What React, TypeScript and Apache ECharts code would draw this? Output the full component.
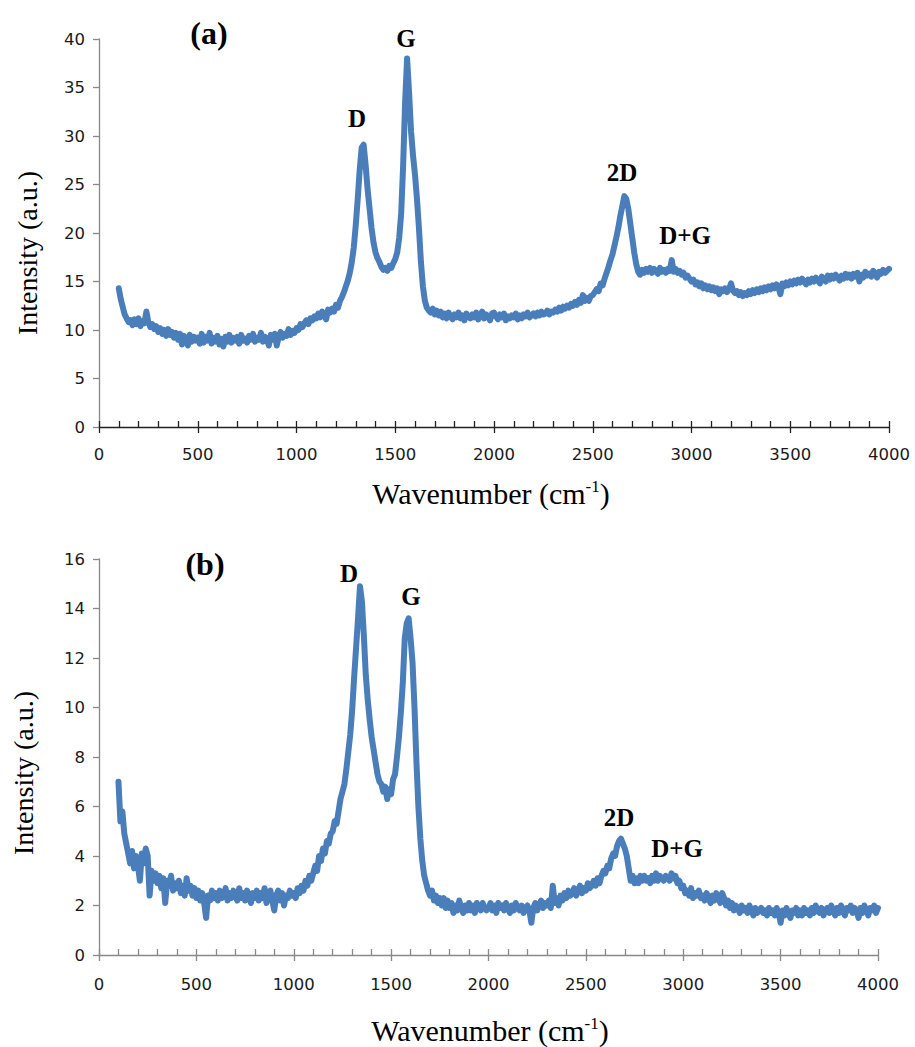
import React, { useEffect, useRef } from "react";
import * as echarts from "echarts";

// Wavenumber sampling (cm-1): first point and spacing of the recorded spectra
const WAVE_START = 100;
const WAVE_STEP = 10;

// Spectrum (a) intensities, 100 .. 4000 cm-1, one row per 100 cm-1
const intensityA: number[] = [
  14.3, 13.2, 12.4, 11.6, 11.2, 10.8, 11.0, 10.5, 11.1, 10.6,
  11.2, 10.4, 10.9, 10.7, 11.9, 10.8, 10.3, 10.6, 10.1, 10.4,
  9.8, 10.2, 9.6, 10.0, 9.4, 10.1, 9.5, 9.8, 9.2, 9.7,
  9.0, 9.6, 8.5, 9.4, 9.1, 8.4, 9.5, 8.8, 9.3, 8.9,
  9.2, 8.6, 9.6, 8.7, 9.3, 8.9, 9.7, 8.6, 9.2, 8.8,
  9.4, 8.5, 9.1, 8.3, 9.3, 8.8, 9.5, 8.7, 9.2, 8.9,
  9.3, 8.6, 9.5, 8.9, 9.1, 8.7, 9.4, 9.0, 9.6, 8.8,
  9.2, 9.0, 9.7, 8.8, 9.3, 9.1, 8.4, 9.5, 9.0, 9.6,
  8.4, 9.3, 9.8, 9.2, 9.6, 9.4, 10.1, 9.5, 9.9, 9.7,
  10.2, 10.0, 10.6, 10.3, 10.7, 11.0, 10.6, 11.2, 11.0, 11.4,
  11.2, 11.7, 11.3, 11.9, 11.5, 11.1, 12.1, 11.8, 12.2, 11.9,
  12.6, 12.3, 13.0, 13.4, 13.9, 14.5, 15.1, 15.9, 17.0, 18.5,
  20.8, 23.5, 26.5, 28.8, 29.1, 27.0, 24.5, 22.5, 20.5, 19.0,
  18.0, 17.4, 17.0, 16.5, 16.2, 16.4, 16.1, 16.6, 16.4, 16.9,
  17.3, 18.0, 19.5, 22.0, 27.0, 33.5, 38.0, 34.5, 30.5, 28.0,
  26.0, 23.5, 20.5, 17.0, 14.5, 13.0, 12.3, 12.0, 11.8, 12.2,
  11.6, 12.0, 11.5, 11.9, 11.3, 11.7, 11.2, 11.8, 11.4, 11.1,
  11.6, 11.3, 11.8, 11.2, 11.5, 11.0, 11.7, 11.4, 11.2, 11.6,
  11.3, 11.8, 11.1, 11.5, 11.9, 11.2, 11.6, 11.4, 11.0, 11.7,
  11.8, 11.4, 11.1, 11.6, 11.3, 11.7, 11.0, 11.4, 11.2, 11.5,
  11.3, 11.7, 11.1, 11.5, 11.2, 11.6, 11.4, 11.8, 11.3, 11.5,
  11.7, 11.4, 11.8, 11.5, 11.9, 11.6, 11.7, 12.0, 11.6, 11.9,
  11.8, 12.1, 11.9, 12.3, 12.0, 12.4, 12.2, 12.5, 12.3, 12.7,
  12.5, 12.9, 12.6, 13.1, 12.8, 13.6, 13.0, 13.3, 13.0, 13.5,
  13.6, 13.9, 14.2, 14.0, 14.8, 14.6, 15.3, 15.9, 16.5, 17.2,
  17.8, 18.7, 19.6, 20.6, 21.8, 22.8, 23.8, 23.5, 22.5, 21.0,
  19.5, 18.0, 16.8, 16.0, 15.7, 16.2, 15.9, 16.3, 16.0, 16.4,
  15.9, 16.3, 16.1, 15.8, 16.4, 16.0, 16.2, 15.9, 16.3, 16.1,
  17.2, 16.0, 16.3, 15.9, 16.1, 15.7, 15.9, 15.4, 15.6, 15.3,
  15.0, 15.2, 14.7, 14.9, 14.5, 14.8, 14.3, 14.6, 14.2, 14.5,
  14.1, 14.4, 14.0, 14.3, 13.7, 14.2, 14.0, 14.3, 13.9, 14.2,
  14.8, 14.1, 13.8, 14.0, 13.6, 13.9, 13.5, 13.8, 13.6, 14.0,
  13.7, 14.1, 13.8, 14.2, 13.9, 14.3, 14.0, 14.4, 14.1, 14.5,
  14.2, 14.6, 14.3, 14.7, 14.4, 13.7, 14.8, 14.5, 14.9, 14.6,
  15.0, 14.7, 15.1, 14.8, 15.2, 14.9, 15.3, 15.0, 14.7, 15.2,
  14.9, 15.3, 15.0, 15.4, 15.1, 14.8, 15.5, 15.2, 15.0, 15.6,
  15.2, 15.6, 15.3, 15.7, 15.4, 15.1, 15.6, 15.3, 15.8, 15.4,
  15.7, 15.3, 15.8, 15.5, 15.9, 15.0, 15.7, 15.4, 16.0, 15.6,
  15.8, 15.5, 16.1, 15.7, 15.4, 16.0, 15.8, 16.2, 15.9, 16.1,
  16.3,
];

// Spectrum (b) intensities, 100 .. 4000 cm-1, one row per 100 cm-1
const intensityB: number[] = [
  7.0, 5.4, 5.8, 4.9, 4.5, 4.1, 3.7, 4.2, 3.5, 4.0,
  3.6, 3.0, 4.1, 3.7, 4.3, 4.0, 2.4, 3.4, 3.0, 3.3,
  2.9, 3.2, 2.7, 3.1, 2.1, 3.0, 2.8, 3.2, 2.6, 2.9,
  2.7, 3.0, 2.5, 2.8, 2.4, 3.1, 2.6, 2.8, 2.4, 2.7,
  2.3, 2.6, 2.2, 2.5, 2.1, 1.5, 2.4, 2.2, 2.6, 2.3,
  2.5, 2.2, 2.6, 2.3, 2.4, 2.7, 2.2, 2.5, 2.3, 2.6,
  2.4, 2.2, 2.7, 2.3, 2.5, 2.2, 2.6, 2.4, 2.1, 2.5,
  2.3, 2.6, 2.2, 2.5, 2.3, 2.7, 2.1, 2.4, 2.6, 2.2,
  1.8, 2.4, 2.6, 2.2, 2.5, 2.0, 2.4, 2.3, 2.6, 2.4,
  2.5, 2.3, 2.7, 2.5, 2.8, 2.6, 3.0, 2.8, 3.2, 3.0,
  3.3, 3.6, 3.4, 4.0, 3.8, 4.3, 4.1, 4.6, 4.5, 4.9,
  5.0, 5.4, 5.3, 5.8, 6.3, 6.6, 6.9, 7.5, 8.2, 8.9,
  9.9, 11.2, 12.4, 13.6, 14.9, 14.3, 12.9, 11.3, 10.3, 9.5,
  8.8, 8.3, 7.8, 7.3, 7.0, 6.9, 6.6, 6.8, 6.3, 6.7,
  6.5, 7.1, 7.3, 8.0, 8.8, 9.8, 11.0, 12.8, 13.4, 13.6,
  12.8, 11.8, 10.0, 7.8, 6.0, 4.7, 3.8, 3.2, 2.9, 2.6,
  2.4, 2.6, 2.2, 2.4, 2.1, 2.3, 2.0, 2.3, 1.9, 2.2,
  1.9, 2.1, 1.7, 2.0, 1.8, 2.2, 1.9, 1.7, 2.0, 1.8,
  2.1, 1.8, 2.0, 1.7, 2.1, 1.9, 1.8, 2.1, 1.9, 1.8,
  1.9, 2.1, 1.8, 2.0, 1.7, 2.1, 1.9, 2.0, 1.8, 2.1,
  1.9, 1.7, 2.0, 1.8, 2.1, 1.9, 1.8, 2.0, 1.7, 1.9,
  2.0, 1.8, 1.3, 1.9, 2.1, 1.8, 2.0, 2.2, 1.9, 2.1,
  2.0, 2.2, 1.9, 2.8, 2.1, 2.3, 2.0, 2.4, 2.2, 2.5,
  2.3, 2.6, 2.4, 2.5, 2.7, 2.4, 2.6, 2.8, 2.5, 2.7,
  2.6, 2.9, 2.7, 2.8, 3.0, 2.8, 3.1, 2.9, 3.2, 3.4,
  3.3, 3.6, 3.5, 3.9, 4.1, 4.0, 4.4, 4.6, 4.7, 4.5,
  4.3, 4.0, 3.5, 3.0, 3.2, 2.9, 3.1, 2.9, 3.2, 3.0,
  3.2, 3.0, 3.1, 2.9, 3.2, 3.0, 3.3, 3.0, 3.2, 3.1,
  3.0, 3.2, 3.1, 3.0, 3.3, 3.1, 3.2, 2.9, 3.0, 2.7,
  2.8, 2.5, 2.6, 2.4, 2.7, 2.3, 2.5, 2.4, 2.6, 2.3,
  2.4, 2.2, 2.5, 2.3, 2.1, 2.4, 2.2, 2.5, 2.3, 2.1,
  2.5, 2.3, 2.0, 2.2, 1.9, 2.1, 1.8, 2.0, 1.9, 1.7,
  2.0, 1.8, 1.9, 1.7, 2.0, 1.8, 1.6, 1.9, 1.7, 1.8,
  1.9, 1.7, 1.8, 1.6, 1.9, 1.7, 1.8, 1.6, 1.9, 1.7,
  1.3, 1.8, 1.6, 1.9, 1.7, 1.5, 1.8, 1.7, 1.9, 1.6,
  1.8, 1.6, 1.9, 1.7, 1.8, 1.6, 1.9, 1.7, 2.0, 1.8,
  1.7, 1.9, 1.6, 1.8, 1.9, 1.7, 2.0, 1.8, 1.6, 1.9,
  1.7, 2.0, 1.8, 1.6, 1.9, 1.8, 2.0, 1.7, 1.9, 1.8,
  1.5, 1.9, 1.7, 2.0, 1.8, 1.6, 1.9, 1.8, 2.0, 1.7,
  1.9,
];

// Axis ranges / tick steps
const X_MIN = 0;
const X_MAX = 4000;
const X_STEP = 500;
const Y_A_MAX = 40;
const Y_A_STEP = 5;
const Y_B_MAX = 16;
const Y_B_STEP = 2;

const panelLabels = ["(a)", "(b)"];
const peakLabelsA = ["D", "G", "2D", "D+G"];
const peakLabelsB = ["D", "G", "2D", "D+G"];

const LINE_COLOR = "#4a7ebb";
const AXIS_GREY = "#898989";
const SERIF = "'Liberation Serif', 'Times New Roman', serif";
const SANS = "'DejaVu Sans', 'Noto Sans', sans-serif";

function toPairs(vals: number[]) {
  return vals.map((v, i) => [WAVE_START + WAVE_STEP * i, v]);
}

export default function App() {
  const ref = useRef<HTMLDivElement>(null);

  useEffect(() => {
    if (!ref.current) return;
    const chart = echarts.init(ref.current, undefined, { renderer: "svg" });

    const gridA = { left: 99, top: 39, width: 790, height: 388 };
    const gridB = { left: 99, top: 559, width: 779, height: 396 };

    const mainX = (gridIndex: number, lineColor: string, labelMargin: number) => ({
      type: "value",
      gridIndex,
      min: X_MIN,
      max: X_MAX,
      interval: X_STEP,
      position: "bottom",
      axisLine: { show: true, onZero: false, lineStyle: { color: lineColor, width: 1.3 } },
      axisTick: { show: true, inside: true, length: 6, lineStyle: { color: lineColor, width: 1.3 } },
      minorTick: { show: true, splitNumber: 5, length: 6, lineStyle: { color: lineColor, width: 1.3 } },
      splitLine: { show: false },
      minorSplitLine: { show: false },
      axisLabel: {
        show: true,
        margin: labelMargin,
        fontFamily: SANS,
        fontSize: 16.5,
        color: "#1a1a1a",
        formatter: (v: number) => String(v),
      },
    });
    const outerTickX = (gridIndex: number, lineColor: string) => ({
      type: "value",
      gridIndex,
      min: X_MIN,
      max: X_MAX,
      interval: X_STEP,
      position: "bottom",
      offset: 0,
      axisLine: { show: false },
      axisTick: { show: true, inside: false, length: 6, lineStyle: { color: lineColor, width: 1.3 } },
      splitLine: { show: false },
      axisLabel: { show: false },
    });
    const yAx = (gridIndex: number, max: number, step: number) => ({
      type: "value",
      gridIndex,
      min: 0,
      max,
      interval: step,
      axisLine: { show: true, lineStyle: { color: AXIS_GREY, width: 1.3 } },
      axisTick: { show: true, inside: false, length: 6, lineStyle: { color: AXIS_GREY, width: 1.3 } },
      splitLine: { show: false },
      axisLabel: {
        show: true,
        margin: 14,
        fontFamily: SANS,
        fontSize: 16.5,
        color: "#1a1a1a",
        formatter: (v: number) => String(v),
      },
    });

    const boldLabel = (text: string, x: number, y: number, size = 25) => ({
      type: "text",
      x,
      y,
      style: {
        text,
        fontFamily: SERIF,
        fontWeight: "bold",
        fontSize: size,
        fill: "#000",
        textAlign: "center",
        textVerticalAlign: "middle",
      },
    });
    const xTitle = (x: number, y: number) => ({
      type: "text",
      x,
      y,
      style: {
        text: "{a|Wavenumber (cm}{s|-1}{a|)}",
        rich: {
          a: { fontFamily: SERIF, fontSize: 30, fill: "#000", verticalAlign: "bottom" },
          s: { fontFamily: SERIF, fontSize: 17, fill: "#000", verticalAlign: "top" },
        },
        textAlign: "center",
        textVerticalAlign: "middle",
      },
    });
    const yTitle = (x: number, y: number) => ({
      type: "text",
      x,
      y,
      rotation: Math.PI / 2,
      style: {
        text: "Intensity (a.u.)",
        fontFamily: SERIF,
        fontSize: 28,
        fill: "#000",
        textAlign: "center",
        textVerticalAlign: "middle",
      },
    });

    const seriesLine = { color: LINE_COLOR, width: 6, join: "round", cap: "round" };

    chart.setOption({
      animation: false,
      backgroundColor: "#ffffff",
      grid: [gridA, gridB],
      xAxis: [
        mainX(0, "#222222", 19),
        outerTickX(0, "#222222"),
        mainX(1, AXIS_GREY, 21),
        outerTickX(1, AXIS_GREY),
      ],
      yAxis: [yAx(0, Y_A_MAX, Y_A_STEP), yAx(1, Y_B_MAX, Y_B_STEP)],
      series: [
        {
          type: "line",
          xAxisIndex: 0,
          yAxisIndex: 0,
          data: toPairs(intensityA),
          showSymbol: false,
          lineStyle: seriesLine,
          itemStyle: { color: LINE_COLOR },
        },
        {
          type: "line",
          xAxisIndex: 2,
          yAxisIndex: 1,
          data: toPairs(intensityB),
          showSymbol: false,
          lineStyle: seriesLine,
          itemStyle: { color: LINE_COLOR },
        },
      ],
      graphic: [
        boldLabel(panelLabels[0], 209, 33, 32),
        boldLabel(peakLabelsA[0], 357, 118),
        boldLabel(peakLabelsA[1], 406, 38),
        boldLabel(peakLabelsA[2], 622, 172),
        boldLabel(peakLabelsA[3], 685, 235),
        boldLabel(panelLabels[1], 205, 564, 32),
        boldLabel(peakLabelsB[0], 349, 573),
        boldLabel(peakLabelsB[1], 411, 596),
        boldLabel(peakLabelsB[2], 619, 817),
        boldLabel(peakLabelsB[3], 677, 848),
        xTitle(491, 493),
        xTitle(490, 1030),
        yTitle(27, 253),
        yTitle(23, 773),
      ],
    });

    return () => chart.dispose();
  }, []);

  return (
    <div
      ref={ref}
      style={{ position: "absolute", left: 0, top: 0, width: 915, height: 1047 }}
    />
  );
}
